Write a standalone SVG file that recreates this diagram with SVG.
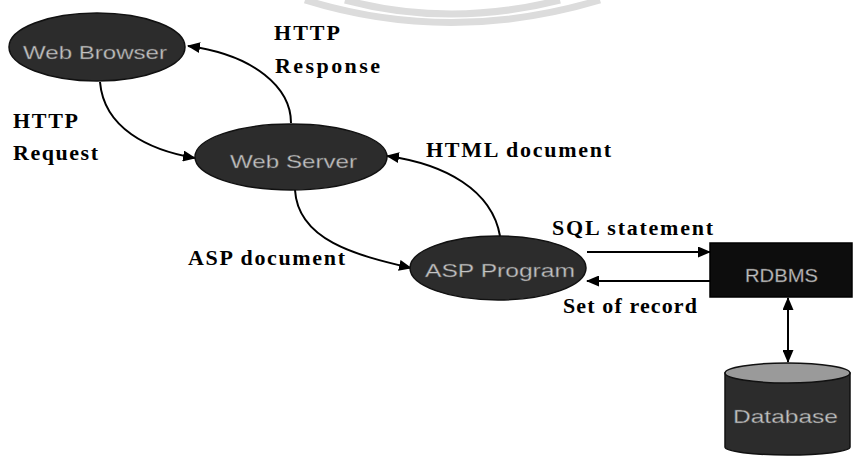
<svg xmlns="http://www.w3.org/2000/svg" width="855" height="457" viewBox="0 0 855 457">
  <style>
    .node { fill: #2c2c2c; stroke: #111; stroke-width: 1.5; }
    .dbtop { fill: #9a9a9a; stroke: #111; stroke-width: 1.5; }
    .nlabel { font-family: "Liberation Sans", Arial, sans-serif; font-size: 19px; fill: #c4c4c4; stroke: #555; stroke-width: 0.4; }
    .elabel { font-family: "Liberation Serif", "Times New Roman", serif; font-weight: bold; font-size: 22px; fill: #000; }
    .edge { fill: none; stroke: #000; stroke-width: 2; }
    .mark { fill: none; stroke: #dcdcdc; stroke-width: 7; }
  </style>
  <defs>
    <marker id="arrow" viewBox="0 0 13 11" refX="12" refY="5.5" markerWidth="13" markerHeight="11" markerUnits="userSpaceOnUse" orient="auto-start-reverse">
      <path d="M0,0 L13,5.5 L0,11 Z" fill="#000"/>
    </marker>
  </defs>

  <rect width="855" height="457" fill="#fff"/>

  <!-- faint background arcs -->
  <g id="backdrop">
    <path class="mark" d="M305,0 Q450,45 600,0"/>
    <path class="mark" d="M345,0 Q450,28 560,0"/>
  </g>

  <!-- connectors -->
  <g id="connectors">
    <path class="edge" d="M291,123 C291,88 255,55 188,46" marker-end="url(#arrow)"/>
    <path class="edge" d="M100,82 C104,128 148,150 195,158" marker-end="url(#arrow)"/>
    <path class="edge" d="M295,190 C298,240 355,255 411,268" marker-end="url(#arrow)"/>
    <path class="edge" d="M500,236 C492,190 445,164 387,156" marker-end="url(#arrow)"/>
    <path class="edge" d="M587,252 L710,252" marker-end="url(#arrow)"/>
    <path class="edge" d="M710,281 L587,281" marker-end="url(#arrow)"/>
    <path class="edge" d="M788,298 L788,362" marker-start="url(#arrow)" marker-end="url(#arrow)"/>
  </g>

  <!-- connector labels -->
  <g id="labels">
    <text class="elabel" x="274" y="40" textLength="66" lengthAdjust="spacing">HTTP</text>
    <text class="elabel" x="275" y="73" textLength="105" lengthAdjust="spacing">Response</text>
    <text class="elabel" x="13" y="128" textLength="65" lengthAdjust="spacing">HTTP</text>
    <text class="elabel" x="13" y="160" textLength="85" lengthAdjust="spacing">Request</text>
    <text class="elabel" x="426" y="157" textLength="185" lengthAdjust="spacing">HTML document</text>
    <text class="elabel" x="188" y="265" textLength="157" lengthAdjust="spacing">ASP document</text>
    <text class="elabel" x="552" y="235" textLength="161" lengthAdjust="spacing">SQL statement</text>
    <text class="elabel" x="563" y="313" textLength="134" lengthAdjust="spacing">Set of record</text>
  </g>

  <g id="web-browser">
    <ellipse class="node" cx="97" cy="47" rx="88" ry="34"/>
    <text class="nlabel" x="23" y="59" textLength="144" lengthAdjust="spacingAndGlyphs">Web Browser</text>
  </g>

  <g id="web-server">
    <ellipse class="node" cx="291" cy="157" rx="96" ry="33"/>
    <text class="nlabel" x="230" y="168" textLength="127" lengthAdjust="spacingAndGlyphs">Web Server</text>
  </g>

  <g id="asp-program">
    <ellipse class="node" cx="498" cy="268" rx="88" ry="32"/>
    <text class="nlabel" x="425" y="277" textLength="150" lengthAdjust="spacingAndGlyphs">ASP Program</text>
  </g>

  <g id="rdbms">
    <rect x="710" y="243" width="142" height="54" fill="#0d0d0d" stroke="#000" stroke-width="1.5"/>
    <text class="nlabel" x="745" y="282" textLength="73" lengthAdjust="spacingAndGlyphs">RDBMS</text>
  </g>

  <g id="database">
    <path class="node" d="M725,373 L725,447 A62.5,8 0 0 0 850,447 L850,373 Z"/>
    <ellipse class="dbtop" cx="787.5" cy="373" rx="62.5" ry="10"/>
    <text class="nlabel" x="733" y="423" textLength="105" lengthAdjust="spacingAndGlyphs">Database</text>
  </g>
</svg>
